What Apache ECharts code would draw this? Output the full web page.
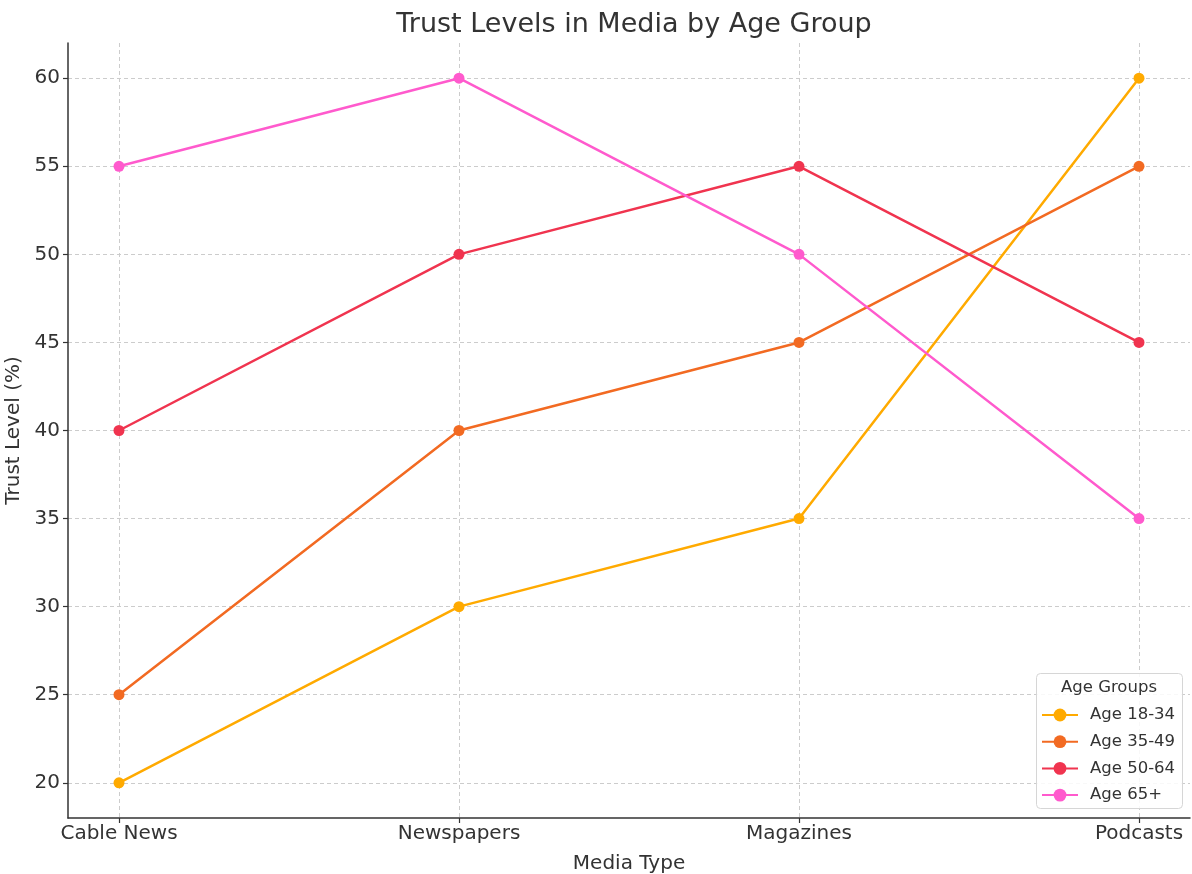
<!DOCTYPE html>
<html>
<head>
<meta charset="utf-8">
<script src="https://cdn.jsdelivr.net/npm/echarts@6/dist/echarts.min.js"></script>
<style>
  html, body { margin: 0; padding: 0; background: #fff; }
  #chart { width: 1192px; height: 874px; }
</style>
</head>
<body>
<div id="chart"></div>
<script>
// Media categories and trust levels (%) for each age group
const mediaTypes = ['Cable News', 'Newspapers', 'Magazines', 'Podcasts'];
const age18to34 = [20, 30, 35, 60];
const age35to49 = [25, 40, 45, 55];
const age50to64 = [40, 50, 55, 45];
const age65plus = [55, 60, 50, 35];
const seriesNames = ['Age 18-34', 'Age 35-49', 'Age 50-64', 'Age 65+'];
const seriesColors = ['#FFAA00', '#F26A22', '#F0344F', '#FF5ACD'];
const yTicks = [20, 25, 30, 35, 40, 45, 50, 55, 60];

const FONT = 'DejaVu Sans';
const seriesData = [age18to34, age35to49, age50to64, age65plus];
const xTicks = mediaTypes.map((_, i) => i);

const chart = echarts.init(document.getElementById('chart'), null, { renderer: 'canvas' });

const option = {
  backgroundColor: '#fff',
  animation: false,
  textStyle: { fontFamily: FONT },
  title: {
    text: 'Trust Levels in Media by Age Group',
    left: 629, top: 6, textAlign: 'center',
    textStyle: { fontFamily: FONT, fontSize: 27, fontWeight: 'normal', color: '#333' }
  },
  grid: { left: 68, right: 2, top: 43, bottom: 56, containLabel: false, outerBoundsMode: 'none' },
  xAxis: {
    type: 'value',
    min: -0.15, max: 3.15,
    name: 'Media Type',
    nameLocation: 'middle', nameGap: 36,
    nameTextStyle: { fontFamily: FONT, fontSize: 20, color: '#333' },
    axisLine: { show: true, onZero: false, lineStyle: { color: '#333', width: 1.5 } },
    axisTick: { show: true, length: 5, customValues: xTicks, lineStyle: { color: '#333', width: 1.2 } },
    axisLabel: {
      customValues: xTicks, margin: 6,
      fontFamily: FONT, fontSize: 20, color: '#333',
      formatter: v => mediaTypes[Math.round(v)]
    },
    splitLine: { show: true, lineStyle: { color: '#cccccc', type: [4, 3], width: 1 } }
  },
  yAxis: {
    type: 'value',
    min: 18, max: 62,
    name: 'Trust Level (%)',
    nameLocation: 'middle', nameGap: 36, nameRotate: 90,
    nameTextStyle: { fontFamily: FONT, fontSize: 20, color: '#333' },
    axisLine: { show: true, onZero: false, lineStyle: { color: '#333', width: 1.5 } },
    axisTick: { show: true, length: 5, customValues: yTicks, lineStyle: { color: '#333', width: 1.2 } },
    axisLabel: { customValues: yTicks, margin: 8, fontFamily: FONT, fontSize: 20, color: '#333' },
    splitLine: { show: true, lineStyle: { color: '#cccccc', type: [4, 3], width: 1 } }
  },
  legend: {
    orient: 'vertical',
    left: 1041, top: 705,
    padding: 0,
    z: 20,
    itemWidth: 36, itemHeight: 16, itemGap: 6.7,
    data: seriesNames,
    textStyle: { fontFamily: FONT, fontSize: 16.5, lineHeight: 20, color: '#333', padding: [0, 0, 0, 7] }
  },
  graphic: [
    {
      type: 'rect', z: 15,
      shape: { x: 1036.5, y: 673.5, width: 146, height: 135, r: 4 },
      style: { fill: 'rgba(255,255,255,0.85)', stroke: '#d6d6d6', lineWidth: 1 }
    },
    {
      type: 'text', z: 16,
      x: 1109, y: 688,
      style: { text: 'Age Groups', fontFamily: FONT, fontSize: 16.5, fill: '#333', align: 'center', verticalAlign: 'middle' }
    }
  ],
  series: seriesData.map((vals, i) => ({
    name: seriesNames[i],
    type: 'line',
    data: vals.map((v, j) => [j, v]),
    symbol: 'circle',
    symbolSize: 11,
    color: seriesColors[i],
    lineStyle: { width: 2.5, color: seriesColors[i] },
    itemStyle: { color: seriesColors[i] },
    z: 2
  }))
};

chart.setOption(option);
</script>
</body>
</html>
